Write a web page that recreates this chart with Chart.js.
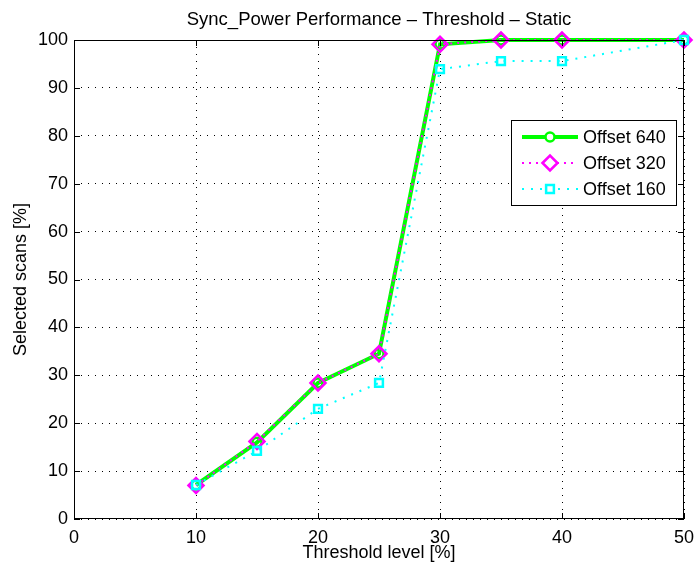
<!DOCTYPE html>
<html>
<head>
<meta charset="utf-8">
<script src="https://cdn.jsdelivr.net/npm/chart.js@4.4.0/dist/chart.umd.min.js"></script>
<style>
  html,body{margin:0;padding:0;background:#fff;}
  #wrap{width:694px;height:571px;position:relative;}
</style>
</head>
<body>
<div id="wrap"><canvas id="myChart" width="694" height="571"></canvas></div>
<script>
const thresholds=[10,15,20,25,30,35,40,50];
const offset640=[7.1,16,28.4,34.5,99.1,100,100,100];
const offset320=[7,16.2,28.4,34.5,99.1,100,100,100];
const offset160=[7.1,14.2,23,28.4,93.9,95.6,95.6,100];
const seriesNames=['Offset 640','Offset 320','Offset 160'];
const xTicks=[0,10,20,30,40,50];
const yTicks=[0,10,20,30,40,50,60,70,80,90,100];

const FONT='"Liberation Sans", Arial, Helvetica, sans-serif';

function pts(vals){
  return thresholds.map((x,i)=>({x:x,y:vals[i]}));
}

// box, inward ticks, titles and legend like the matlab figure
const matlabDecor={
  id:'matlabDecor',
  afterDraw(chart){
    const ctx=chart.ctx;
    const a=chart.chartArea;
    const xs=chart.scales.x, ys=chart.scales.y;
    ctx.save();
    ctx.strokeStyle='#000';
    ctx.lineWidth=1;
    ctx.setLineDash([]);
    ctx.strokeRect(a.left+0.5,a.top+0.5,a.right-a.left-1,a.bottom-a.top-1);
    ctx.beginPath();
    xTicks.forEach(v=>{
      const p=Math.round(xs.getPixelForValue(v))+0.5;
      ctx.moveTo(p,a.bottom);ctx.lineTo(p,a.bottom-6);
      ctx.moveTo(p,a.top);ctx.lineTo(p,a.top+6);
    });
    yTicks.forEach(v=>{
      const p=Math.round(ys.getPixelForValue(v))+0.5;
      ctx.moveTo(a.left,p);ctx.lineTo(a.left+6,p);
      ctx.moveTo(a.right,p);ctx.lineTo(a.right-6,p);
    });
    ctx.stroke();

    ctx.fillStyle='#000';
    ctx.textAlign='center';
    ctx.textBaseline='alphabetic';
    const cx=(a.left+a.right)/2;
    ctx.font='18.5px '+FONT;
    ctx.fillText('Sync_Power Performance \u2013 Threshold \u2013 Static',cx,25);
    ctx.font='18px '+FONT;
    ctx.fillText('Threshold level [%]',cx,558);
    ctx.save();
    ctx.translate(26,(a.top+a.bottom)/2);
    ctx.rotate(-Math.PI/2);
    ctx.fillText('Selected scans [%]',0,0);
    ctx.restore();

    // legend
    const lx=511, ly=120, lw=165, lh=85;
    ctx.fillStyle='#fff';
    ctx.fillRect(lx,ly,lw,lh);
    ctx.strokeStyle='#000';
    ctx.lineWidth=1;
    ctx.strokeRect(lx+0.5,ly+0.5,lw,lh);
    chart.data.datasets.forEach((ds,i)=>{
      const cy=ly+17+i*26;
      ctx.save();
      ctx.strokeStyle=ds.borderColor;
      ctx.lineWidth=ds.borderWidth;
      ctx.setLineDash(ds.borderDash||[]);
      ctx.beginPath();
      ctx.moveTo(lx+11,cy);ctx.lineTo(lx+67,cy);
      ctx.stroke();
      ctx.setLineDash([]);
      ctx.lineWidth=ds.pointBorderWidth;
      ctx.strokeStyle=ds.pointBorderColor;
      ctx.fillStyle='#fff';
      Chart.helpers.drawPoint(ctx,{pointStyle:ds.pointStyle,radius:ds.pointRadius,borderWidth:ds.pointBorderWidth,rotation:0},lx+39,cy);
      ctx.restore();
      ctx.fillStyle='#000';
      ctx.font='18px '+FONT;
      ctx.textAlign='left';
      ctx.textBaseline='middle';
      ctx.fillText(seriesNames[i],lx+72,cy+1);
    });
    ctx.restore();
  }
};

const myChart=new Chart(document.getElementById('myChart'),{
  type:'line',
  data:{
    datasets:[
      {label:seriesNames[0],data:pts(offset640),borderColor:'#00ff00',borderWidth:4,
       pointStyle:'circle',pointRadius:4.5,pointBorderWidth:2.5,pointBorderColor:'#00ff00',
       pointBackgroundColor:'rgba(0,0,0,0)',order:3,clip:false},
      {label:seriesNames[1],data:pts(offset320),borderColor:'#ff00ff',borderWidth:2,borderDash:[2,5],
       pointStyle:'rectRot',pointRadius:7.5,pointBorderWidth:2.5,pointBorderColor:'#ff00ff',
       pointBackgroundColor:'rgba(0,0,0,0)',order:2,clip:false},
      {label:seriesNames[2],data:pts(offset160),borderColor:'#00ffff',borderWidth:2,borderDash:[2,7],
       pointStyle:'rect',pointRadius:5.5,pointBorderWidth:2.5,pointBorderColor:'#00ffff',
       pointBackgroundColor:'rgba(0,0,0,0)',order:1,clip:false}
    ]
  },
  options:{
    responsive:false,
    animation:false,
    layout:{padding:{top:40,right:10,left:0,bottom:0}},
    plugins:{legend:{display:false},tooltip:{enabled:false}},
    elements:{line:{tension:0}},
    scales:{
      x:{
        type:'linear',min:0,max:50,
        afterBuildTicks(s){s.ticks=xTicks.map(v=>({value:v}));},
        afterFit(s){s.height=52;s.paddingLeft=0;s.paddingRight=0;},
        grid:{color:'#000',lineWidth:1,drawTicks:false},
        border:{display:false,dash:[1,6]},
        ticks:{color:'#000',font:{family:FONT,size:18},padding:8,maxRotation:0}
      },
      y:{
        type:'linear',min:0,max:100,
        afterBuildTicks(s){s.ticks=yTicks.map(v=>({value:v}));},
        afterFit(s){s.width=74;s.paddingTop=0;s.paddingBottom=0;},
        grid:{color:'#000',lineWidth:1,drawTicks:false},
        border:{display:false,dash:[1,6]},
        ticks:{color:'#000',font:{family:FONT,size:18},padding:6}
      }
    }
  },
  plugins:[matlabDecor]
});
</script>
</body>
</html>
